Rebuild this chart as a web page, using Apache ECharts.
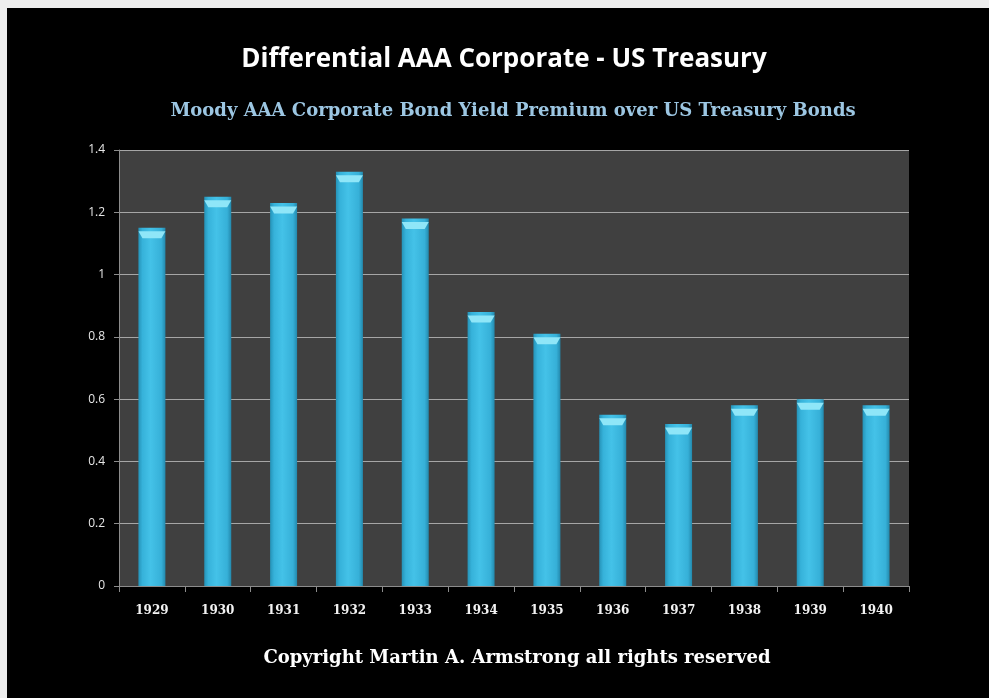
<!DOCTYPE html>
<html>
<head>
<meta charset="utf-8">
<script src="https://cdn.jsdelivr.net/npm/echarts@6/dist/echarts.min.js"></script>
<style>
  html, body { margin: 0; padding: 0; background: #eeeeee; width: 989px; height: 698px; overflow: hidden; }
  #chart { position: absolute; left: 7px; top: 8px; width: 982px; height: 690px; background: #000; }
</style>
</head>
<body>
<div id="chart"></div>
<script>
const titleText = 'Differential AAA Corporate - US Treasury';
const subtitleText = 'Moody AAA Corporate Bond Yield Premium over US Treasury Bonds';
const footerText = 'Copyright Martin A. Armstrong all rights reserved';
const years = ['1929','1930','1931','1932','1933','1934','1935','1936','1937','1938','1939','1940'];
const premium = [1.15, 1.25, 1.23, 1.33, 1.18, 0.88, 0.81, 0.55, 0.52, 0.58, 0.60, 0.58];
const yTicks = [0, 0.2, 0.4, 0.6, 0.8, 1, 1.2, 1.4];

const chart = echarts.init(document.getElementById('chart'));
chart.setOption({
  backgroundColor: '#000000',
  animation: false,
  title: [
    { text: titleText, left: 492, textAlign: 'center', top: 34,
      textStyle: { color: '#ffffff', fontFamily: 'Open Sans', fontWeight: 'bold', fontSize: 26 } },
    { text: subtitleText, left: 501, textAlign: 'center', top: 89,
      textStyle: { color: '#9cc6e2', fontFamily: 'DejaVu Serif', fontWeight: 'bold', fontSize: 18 } },
    { text: footerText, left: 505, textAlign: 'center', top: 636,
      textStyle: { color: '#ffffff', fontFamily: 'DejaVu Serif', fontWeight: 'bold', fontSize: 18 } }
  ],
  grid: { left: 112, top: 142, right: 80, bottom: 112, show: true, backgroundColor: '#404040', borderWidth: 0 },
  xAxis: {
    type: 'category', data: years, boundaryGap: true,
    axisLine: { lineStyle: { color: '#8c8c8c', width: 1 } },
    axisTick: { show: true, length: 6, alignWithLabel: false, lineStyle: { color: '#8c8c8c' } },
    axisLabel: { color: '#f2f2f2', fontFamily: 'DejaVu Serif', fontWeight: 'bold', fontSize: 12, margin: 19 }
  },
  yAxis: {
    type: 'value', min: 0, max: yTicks[yTicks.length - 1], interval: 0.2,
    axisLine: { show: true, lineStyle: { color: '#8c8c8c', width: 1 } },
    axisTick: { show: true, length: 5, lineStyle: { color: '#8c8c8c' } },
    axisLabel: { color: '#e6e6e6', fontFamily: 'Open Sans', fontSize: 12, margin: 14,
      formatter: v => String(+v.toFixed(1)) },
    splitLine: { show: true, lineStyle: { color: '#a6a6a6', width: 1 } }
  },
  series: [
    {
      type: 'bar', data: premium, barWidth: 27, z: 2,
      itemStyle: {
        color: new echarts.graphic.LinearGradient(0, 0, 1, 0, [
          { offset: 0, color: '#2593b8' },
          { offset: 0.15, color: '#36b2da' },
          { offset: 0.45, color: '#44c2e8' },
          { offset: 0.85, color: '#36b0d8' },
          { offset: 1, color: '#2389ad' }
        ])
      }
    },
    {
      type: 'pictorialBar', data: premium, z: 3,
      symbol: 'path://M0,0 L10,0 L8.5,1 L1.5,1 Z',
      symbolSize: [27, 7], symbolPosition: 'end', symbolOffset: [0, '50%'],
      itemStyle: { color: '#8fe6f8' }
    }
  ]
});
</script>
</body>
</html>
